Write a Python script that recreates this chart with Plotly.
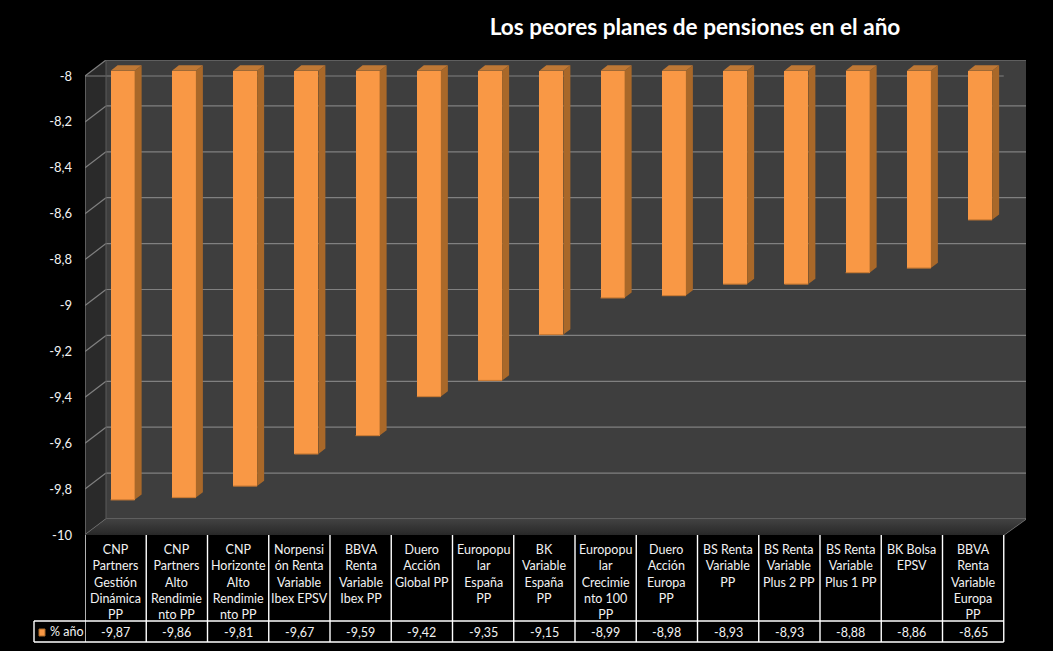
import plotly.graph_objects as go

CATEGORIES = [
    "CNP<br>Partners<br>Gestión<br>Dinámica<br>PP",
    "CNP<br>Partners<br>Alto<br>Rendimie<br>nto PP",
    "CNP<br>Horizonte<br>Alto<br>Rendimie<br>nto PP",
    "Norpensi<br>ón Renta<br>Variable<br>Ibex EPSV",
    "BBVA<br>Renta<br>Variable<br>Ibex PP",
    "Duero<br>Acción<br>Global PP",
    "Europopu<br>lar<br>España<br>PP",
    "BK<br>Variable<br>España<br>PP",
    "Europopu<br>lar<br>Crecimie<br>nto 100<br>PP",
    "Duero<br>Acción<br>Europa<br>PP",
    "BS Renta<br>Variable<br>PP",
    "BS Renta<br>Variable<br>Plus 2 PP",
    "BS Renta<br>Variable<br>Plus 1 PP",
    "BK Bolsa<br>EPSV",
    "BBVA<br>Renta<br>Variable<br>Europa<br>PP",
]
VALUES = [-9.87, -9.86, -9.81, -9.67, -9.59, -9.42, -9.35, -9.15,
          -8.99, -8.98, -8.93, -8.93, -8.88, -8.86, -8.65]
Y_TICKS = [-8, -8.2, -8.4, -8.6, -8.8, -9, -9.2, -9.4, -9.6, -9.8, -10]
Y_TICK_TEXT = ["-8", "-8,2", "-8,4", "-8,6", "-8,8", "-9", "-9,2", "-9,4", "-9,6", "-9,8", "-10"]
SERIES_NAME = "% año"
TITLE = "Los peores planes de pensiones en el año"

W, H = 1053, 651
L, R, T, B = 85, 1026, 60, 535
COL_PX = 61.25
PX_PER_UNIT = (B - 76) / 2.0
DX = 21 / COL_PX
DY = (76 - T) / PX_PER_UNIT
N = len(VALUES)
X_MAX = (R - L) / COL_PX
Y_MIN, Y_MAX = -10, -8 + DY
BAR_W = 24 / COL_PX
BAR_DEPTH = 1 / 3

FONT = "Lato"
FRONT, SIDE, TOP = "#F99845", "#A96829", "#BF7835"
EDGE = "#C97A34"
WALL, SIDEWALL = "#3E3E3E", "#2A2A2A"
GRID = "#808080"


def py(px):
    return (B - px) / (B - T)


def ppx(px):
    return (px - L) / (R - L)


fig = go.Figure()
shapes = []


def poly(pts, fill):
    path = "M " + " L ".join(f"{x},{y}" for x, y in pts) + " Z"
    shapes.append(dict(type="path", path=path, xref="x", yref="y", fillcolor=fill,
                       line=dict(width=0), layer="below"))


def seg(x0, y0, x1, y1, color=GRID, width=1.2, yref="y"):
    shapes.append(dict(type="line", x0=x0, y0=y0, x1=x1, y1=y1, xref="x", yref=yref,
                       line=dict(color=color, width=width), layer="below"))


# walls
poly([(DX, -10 + DY), (X_MAX, -10 + DY), (X_MAX, Y_MAX), (DX, Y_MAX)], WALL)
poly([(0, -10), (DX, -10 + DY), (DX, Y_MAX), (0, -8)], SIDEWALL)
fig.add_trace(go.Scatter(
    x=[0, N, X_MAX, DX, 0], y=[-10, -10, -10 + DY, -10 + DY, -10],
    mode="lines", line=dict(width=0), fill="toself", hoverinfo="skip", showlegend=False,
    fillgradient=dict(type="vertical", colorscale=[[0, "#282828"], [1, "#424242"]]),
))

# gridlines: back wall + side wall
for t in Y_TICKS:
    seg(DX, t + DY, X_MAX, t + DY)
    seg(0, t, DX, t + DY)
seg(0, -8, N, -8)
seg(0, -8, 0, -10)
seg(DX, Y_MAX, DX, -10 + DY, color="#5A5A5A", width=1)
seg(0, -10, N, -10, color="#6A6A6A")
seg(N, -10, X_MAX, -10 + DY)

# bars: side and top faces projected from values
sx, sy, tx, ty, ex, ey = [], [], [], [], [], []
for i, v in enumerate(VALUES):
    c = i + 0.5 + BAR_DEPTH * DX
    x0, x1 = c - BAR_W / 2, c + BAR_W / 2
    ax, ay = BAR_DEPTH * DX, BAR_DEPTH * DY
    top, bot = -8 + ay, v + ay
    sx += [x1, x1 + ax, x1 + ax, x1, x1, None]
    sy += [top, top + ay, bot + ay, bot, top, None]
    tx += [x0, x0 + ax, x1 + ax, x1, x0, None]
    ty += [top, top + ay, top + ay, top, top, None]
    ex += [x0, x1, None]
    ey += [bot, bot, None]
fig.add_trace(go.Scatter(x=sx, y=sy, mode="lines", fill="toself", fillcolor=SIDE,
                         line=dict(width=0), hoverinfo="skip", showlegend=False))
fig.add_trace(go.Scatter(x=tx, y=ty, mode="lines", fill="toself", fillcolor=TOP,
                         line=dict(width=0), hoverinfo="skip", showlegend=False))
fig.add_trace(go.Bar(
    x=[i + 0.5 + BAR_DEPTH * DX for i in range(N)],
    y=[v + 8 for v in VALUES],
    base=-8 + BAR_DEPTH * DY,
    width=BAR_W,
    marker=dict(color=FRONT, line=dict(width=0)),
    name=SERIES_NAME,
    showlegend=False,
))
fig.add_trace(go.Scatter(x=ex, y=ey, mode="lines", line=dict(color=EDGE, width=1.2),
                         hoverinfo="skip", showlegend=False))

# data table
ROW1, ROW2 = 621, 642
KEY_LEFT = 34
line = dict(color="white", width=1.4)
for i in range(N + 1):
    shapes.append(dict(type="line", xref="x", yref="paper", x0=i, x1=i, y0=py(B), y1=py(ROW2), line=line))
for row in (ROW1, ROW2):
    shapes.append(dict(type="line", xref="paper", yref="paper", x0=ppx(KEY_LEFT), x1=ppx(L + N * COL_PX),
                       y0=py(row), y1=py(row), line=line))
shapes.append(dict(type="line", xref="paper", yref="paper", x0=ppx(KEY_LEFT), x1=ppx(KEY_LEFT),
                   y0=py(ROW1), y1=py(ROW2), line=line))
shapes.append(dict(type="rect", xref="paper", yref="paper", x0=ppx(39), x1=ppx(45),
                   y0=py(636), y1=py(629), fillcolor=FRONT, line=dict(color=SIDE, width=1)))

annotations = []
tfont = dict(family=FONT, size=12.5, color="#F2F2F2")
for i, (c, v) in enumerate(zip(CATEGORIES, VALUES)):
    annotations.append(dict(text=c, x=i + 0.5, xref="x", y=py(540), yref="paper", yanchor="top",
                            xanchor="center", showarrow=False, font=tfont, align="center"))
    annotations.append(dict(text=f"{v:.2f}".replace(".", ","), x=i + 0.5, xref="x", y=py(632), yref="paper",
                            yanchor="middle", xanchor="center", showarrow=False, font=tfont))
annotations.append(dict(text=SERIES_NAME, x=ppx(48), xref="paper", y=py(631), yref="paper",
                        xanchor="left", yanchor="middle", showarrow=False, font=tfont))

fig.update_layout(
    width=W, height=H, autosize=False,
    paper_bgcolor="black", plot_bgcolor="black",
    margin=dict(l=L, r=W - R, t=T, b=H - B, pad=0),
    title=dict(text=f"<b>{TITLE}</b>", x=695 / W, xanchor="center", y=1 - 27 / H, yanchor="middle",
               font=dict(family=FONT, size=22.6, color="white")),
    xaxis=dict(range=[0, X_MAX], visible=False),
    yaxis=dict(range=[Y_MIN, Y_MAX], tickvals=Y_TICKS, ticktext=Y_TICK_TEXT, showgrid=False, zeroline=False,
               showline=False, ticks="", ticklabelstandoff=12,
               tickfont=dict(family=FONT, size=13, color="#F2F2F2")),
    shapes=shapes, annotations=annotations, showlegend=False, bargap=0,
)
fig.write_html("out.html", config=dict(displayModeBar=False),
               post_script="document.body.style.margin='0';")
